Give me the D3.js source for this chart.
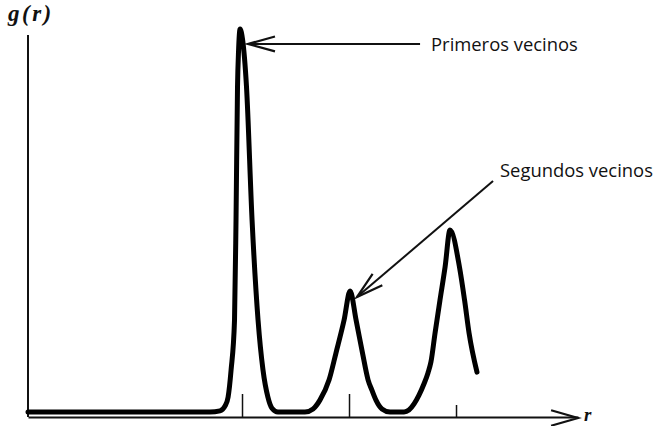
<!DOCTYPE html>
<html>
<head>
<meta charset="utf-8">
<script src="https://cdn.jsdelivr.net/npm/d3@7"></script>
<style>
  body { margin: 0; background: #fff; }
  svg { display: block; }
  .label { font-family: "Open Sans", "Noto Sans", sans-serif; font-size: 18.4px; fill: #111; }
  .math { font-family: "Liberation Serif", "DejaVu Serif", serif; font-style: italic; font-weight: bold; fill: #111; }
</style>
</head>
<body>
<svg width="656" height="426"></svg>
<script>
// radial distribution g(r)
const rVals = [0, 0.85, 0.897, 0.921, 0.935, 0.949, 0.965, 0.972, 0.979, 0.984, 0.991, 1.003, 1.021, 1.047, 1.075, 1.098, 1.121, 1.140, 1.168,
  1.294, 1.332, 1.364, 1.407, 1.439, 1.477, 1.505, 1.533, 1.563, 1.589, 1.607, 1.626, 1.654, 1.692,
  1.757, 1.780, 1.804, 1.827, 1.850, 1.869, 1.883, 1.902, 1.925, 1.949, 1.972, 2.016, 2.040, 2.061, 2.098];
const gVals = [0, 0, 0.03, 0.16, 0.39, 1.10, 2.40, 5.01, 8.49, 9.45, 10, 9.71, 8.49, 5.01, 2.40, 1.10, 0.39, 0.10, 0,
  0, 0.08, 0.31, 0.84, 1.54, 2.40, 3.16, 2.40, 1.54, 0.84, 0.57, 0.31, 0.08, 0,
  0, 0.05, 0.21, 0.44, 0.73, 1.02, 1.31, 2.06, 2.92, 3.79, 4.75, 3.79, 2.92, 2.06, 1.04];
const tickVals = [1, 1.5, 2];
const notes = [
  { label: 'Primeros vecinos', tip: [1.028, 9.61], tail: [1.832, 9.61] },
  { label: 'Segundos vecinos', tip: [1.537, 3.0], tail: [2.173, 6.03] }
];

const svg = d3.select('svg');
const x = d3.scaleLinear().domain([0, 2.57]).range([28, 578]);
const y = d3.scaleLinear().domain([0, 10]).range([412, 29]);
const axisY = 417;

// axes
const xAxis = svg.append('g')
    .attr('transform', `translate(0, ${axisY})`)
    .call(d3.axisBottom(x).tickValues(tickVals).tickSize(-22).tickSizeOuter(0).tickFormat(''));
xAxis.select('.domain').attr('stroke', '#111').attr('stroke-width', 2);
xAxis.selectAll('.tick line').attr('stroke', '#111').attr('stroke-width', 1.5)
    .attr('y2', (d, i) => i === 2 ? -12 : -23);

svg.append('line')
    .attr('x1', x(0)).attr('x2', x(0))
    .attr('y1', axisY).attr('y2', 35)
    .attr('stroke', '#111').attr('stroke-width', 2);

function barbs(tx, ty, fx, fy, len, ang) {
  const a = Math.atan2(fy - ty, fx - tx);
  const p1 = [tx + len * Math.cos(a - ang), ty + len * Math.sin(a - ang)];
  const p2 = [tx + len * Math.cos(a + ang), ty + len * Math.sin(a + ang)];
  return `M${p1}L${tx},${ty}L${p2}`;
}

// x arrow head
svg.append('path')
    .attr('d', barbs(x(2.57), axisY + 1, x(0), axisY, 28, 0.28))
    .attr('fill', 'none').attr('stroke', '#111').attr('stroke-width', 2.2);

svg.append('text').attr('class', 'math')
    .attr('x', 584).attr('y', 421).attr('font-size', 19).text('r');
svg.append('text').attr('class', 'math')
    .attr('x', 8).attr('y', 21).attr('font-size', 23).attr('letter-spacing', 2.5).text('g(r)');

// curve
const pts = rVals.map((r, i) => [r, gVals[i]]);
svg.append('path')
    .datum(pts)
    .attr('fill', 'none')
    .attr('stroke', '#000')
    .attr('stroke-width', 5)
    .attr('stroke-linecap', 'round')
    .attr('stroke-linejoin', 'round')
    .attr('d', d3.line().x(d => x(d[0])).y(d => y(d[1])).curve(d3.curveMonotoneX));

// annotations
const note = svg.selectAll('.note').data(notes).enter().append('g').attr('class', 'note');
note.append('line')
    .attr('x1', d => x(d.tip[0])).attr('y1', d => y(d.tip[1]))
    .attr('x2', d => x(d.tail[0])).attr('y2', d => y(d.tail[1]))
    .attr('stroke', '#111').attr('stroke-width', 2);
note.append('path')
    .attr('d', d => barbs(x(d.tip[0]), y(d.tip[1]), x(d.tail[0]), y(d.tail[1]), 28, 0.27))
    .attr('fill', 'none').attr('stroke', '#111').attr('stroke-width', 2.2);
note.append('text').attr('class', 'label')
    .attr('x', (d, i) => x(d.tail[0]) + (i === 0 ? 11 : 7))
    .attr('y', (d, i) => y(d.tail[1]) + (i === 0 ? 7 : -4))
    .text(d => d.label);
</script>
</body>
</html>
